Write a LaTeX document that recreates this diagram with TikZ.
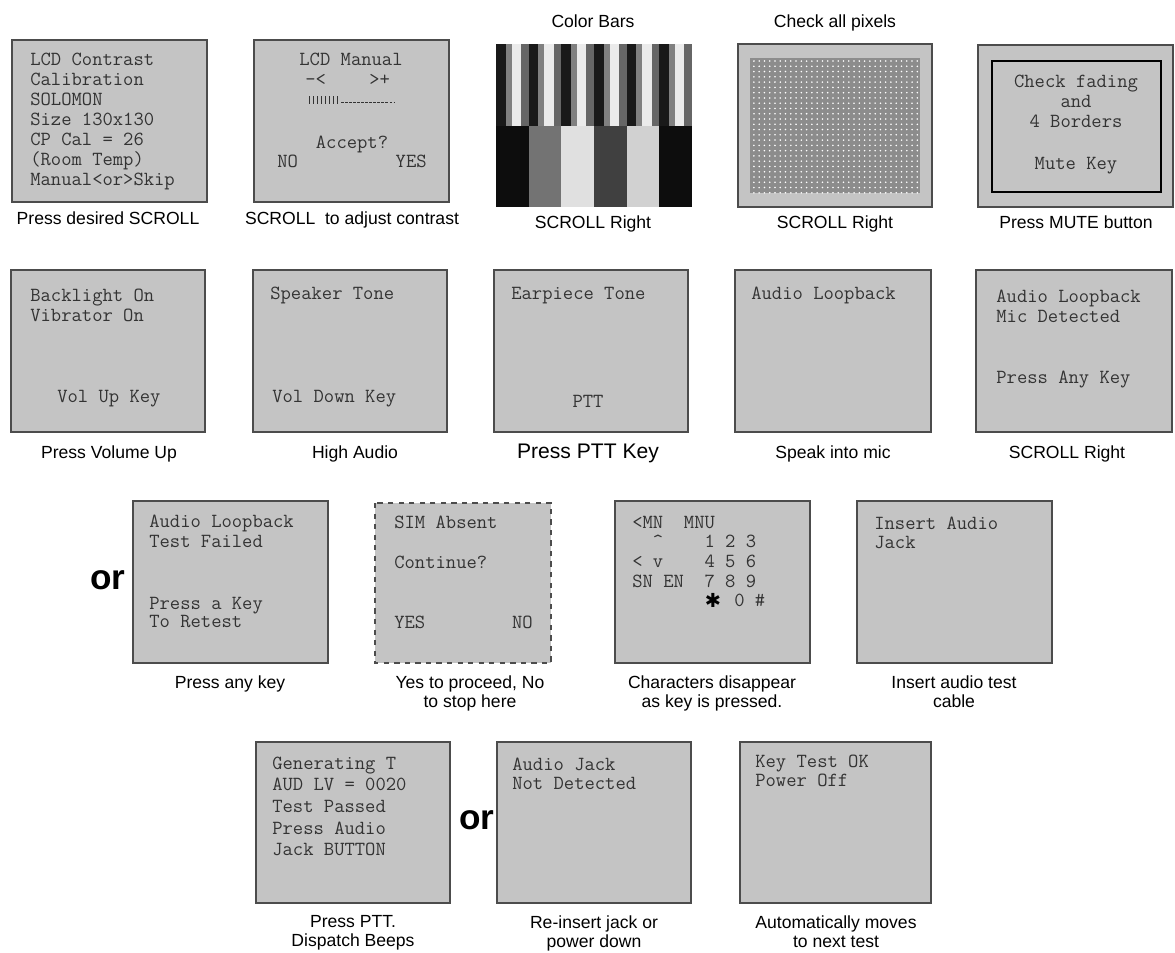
\documentclass[tikz,border=0pt]{standalone}
\usepackage{fontspec}
\setmainfont{Liberation Sans}
\newfontfamily\capfont{Liberation Sans}
\newfontfamily\symfont{DejaVu Sans}
\usetikzlibrary{patterns}

\begin{document}
\begin{tikzpicture}[x=0.2mm, y=-0.2mm,
    screen/.style={draw=black!70, line width=1.1pt, fill=black!23},
    lcd/.style={font=\ttfamily\fontsize{11.4}{13}\selectfont, text=black!80, inner sep=0pt, anchor=base west, yshift=-0.2mm},
    captxt/.style={font=\capfont\fontsize{10}{10.8}\selectfont, inner sep=0pt, align=center, anchor=north},
    orword/.style={font=\capfont\bfseries\fontsize{20}{24}\selectfont, inner sep=0pt}
  ]
  \useasboundingbox (0,0) rectangle (1175,952);

  % ---- row 1
  \draw[screen] (12,40) rectangle (207,202);
  \foreach \t [count=\k from 0] in {LCD Contrast, Calibration, SOLOMON, Size 130x130, CP Cal = 26, {(Room Temp)}, Manual<or>Skip}
    \node[lcd] (cal\k) at (30,64+20*\k) {\t};

  \draw[screen] (254,40) rectangle (449,202);
  \node[lcd, anchor=base] (man) at (351,64) {LCD Manual};
  \node[lcd] (minus) at (305,84) {-<};
  \node[lcd] (plus) at (369,84) {>+};
  \foreach \i in {0,...,7} \draw[black!80, line width=0.5pt] (309+4*\i,96) -- ++(0,8);
  \draw[black!80, line width=0.5pt, dash pattern=on 1.5pt off 0.8pt] (341,102) -- (395,102);
  \node[lcd, anchor=base] (acc) at (352,147) {Accept?};
  \node[lcd] (no) at (277,166) {NO};
  \node[lcd, anchor=base east] (yes) at (427,166) {YES};

  % colour bars
  \foreach \c [count=\i from 0] in {95,55,12,75,18,95}
    \fill[black!\c] (496+32.67*\i,126) rectangle ++(32.67,81);
  \foreach \i in {0,...,5} {
    \fill[black!90] (496+32.67*\i,44) rectangle ++(9.5,82);
    \fill[black!50] (505.5+32.67*\i,44) rectangle ++(6,82);
    \fill[black!8] (511.5+32.67*\i,44) rectangle ++(9.5,82);
    \fill[black!60] (521+32.67*\i,44) rectangle ++(7.67,82);
  }
  \node[captxt] (bars) at (593,14.5) {Color Bars};

  % pixel check
  \draw[screen] (738,44) rectangle (932,207);
  \fill[black!45] (750,58) rectangle (920,193);
  \fill[pattern=dots, pattern color=white] (750,58) rectangle (920,193);
  \node[captxt] (pix) at (835,14.5) {Check all pixels};

  % borders
  \draw[screen] (978,45) rectangle (1173,207);
  \draw[black, line width=1.4pt] (992,61) rectangle (1161,192);
  \foreach \t/\y [count=\k] in {Check fading/86, and/106, 4 Borders/126, Mute Key/168}
    \node[lcd, anchor=base] (brd\k) at (1076,\y) {\t};

  \node[captxt] (c11) at (108,211.5) {Press desired SCROLL};
  \node[captxt] (c12) at (352,211.5) {SCROLL\ \ to adjust contrast};
  \node[captxt] (c13) at (593,215.5) {SCROLL Right};
  \node[captxt] (c14) at (835,215.5) {SCROLL Right};
  \node[captxt] (c15) at (1076,215.5) {Press MUTE button};

  % ---- row 2
  \draw[screen] (11,270) rectangle (205,432);
  \node[lcd] (bl) at (30,300) {Backlight On};
  \node[lcd] (vib) at (30,320) {Vibrator On};
  \node[lcd] (vup) at (57,401) {Vol Up Key};

  \draw[screen] (253,270) rectangle (447,432);
  \node[lcd] (spk) at (270,298) {Speaker Tone};
  \node[lcd] (vdn) at (272,401) {Vol Down Key};

  \draw[screen] (494,270) rectangle (688,432);
  \node[lcd] (ear) at (511,298) {Earpiece Tone};
  \node[lcd, anchor=base] (ptt) at (588,406) {PTT};

  \draw[screen] (735,270) rectangle (931,432);
  \node[lcd] (loop) at (751,298) {Audio Loopback};

  \draw[screen] (976,270) rectangle (1172,432);
  \node[lcd] (loop2) at (996,301) {Audio Loopback};
  \node[lcd] (mic) at (996,321) {Mic Detected};
  \node[lcd] (any) at (996,382) {Press Any Key};

  \node[captxt] (c21) at (109,445.5) {Press Volume Up};
  \node[captxt] (c22) at (355,445.5) {High Audio};
  \node[captxt, font=\capfont\fontsize{12}{14}\selectfont] (c23) at (588,444) {Press PTT Key};
  \node[captxt] (c24) at (833,445.5) {Speak into mic};
  \node[captxt] (c25) at (1067,445.5) {SCROLL Right};

  % ---- row 3
  \node[orword] (or1) at (108,580) {or};
  \draw[screen] (133,501) rectangle (328,663);
  \node[lcd] (fail1) at (149,526) {Audio Loopback};
  \node[lcd] (fail2) at (149,546) {Test Failed};
  \node[lcd] (fail3) at (149,608) {Press a Key};
  \node[lcd] (fail4) at (149,626) {To Retest};

  \draw[screen, dashed] (375,503) rectangle (551,663);
  \node[lcd] (sim) at (394,527) {SIM Absent};
  \node[lcd] (cont) at (394,567) {Continue?};
  \node[lcd] (syes) at (394,627) {YES};
  \node[lcd, anchor=base east] (sno) at (533,627) {NO};

  \draw[screen] (615,501) rectangle (810,663);
  \node[lcd] (kp1) at (632,527) {<MN~~MNU};
  \node[lcd] (kp2) at (632,546) {~~\textasciicircum~~~~1~2~3};
  \node[lcd] (kp3) at (632,566) {<~v~~~~4~5~6};
  \node[lcd] (kp4) at (632,586) {SN~EN~~7~8~9};
  \node[inner sep=0pt, font=\symfont\fontsize{11}{11}\selectfont] (star) at (713,600) {✱};
  \node[lcd] (kp5) at (734,605) {0~\#};

  \draw[screen] (857,501) rectangle (1052,663);
  \node[lcd] (ins1) at (874,528) {Insert Audio};
  \node[lcd] (ins2) at (874,547) {Jack};

  \node[captxt] (c31) at (230,675.5) {Press any key};
  \node[captxt] (c32) at (470,675.5) {Yes to proceed, No\\to stop here};
  \node[captxt] (c33) at (712,675.5) {Characters disappear\\as key is pressed.};
  \node[captxt] (c34) at (954,675.5) {Insert audio test\\cable};

  % ---- row 4
  \draw[screen] (256,742) rectangle (450,903);
  \foreach \t [count=\k from 0] in {Generating T, AUD LV = 0020, Test Passed, Press Audio, Jack BUTTON}
    \node[lcd] (gen\k) at (272,768+21.7*\k) {\t};

  \node[orword] (or2) at (477,820) {or};
  \draw[screen] (497,742) rectangle (691,903);
  \node[lcd] (jack1) at (512,769) {Audio Jack};
  \node[lcd] (jack2) at (512,788) {Not Detected};

  \draw[screen] (740,742) rectangle (931,903);
  \node[lcd] (ok1) at (755,766) {Key Test OK};
  \node[lcd] (ok2) at (755,785) {Power Off};

  \node[captxt] (c41) at (353,915.5) {Press PTT.\\Dispatch Beeps};
  \node[captxt] (c42) at (594,915.5) {Re-insert jack or\\power down};
  \node[captxt] (c43) at (836,915.5) {Automatically moves\\to next test};
\end{tikzpicture}
\end{document}
